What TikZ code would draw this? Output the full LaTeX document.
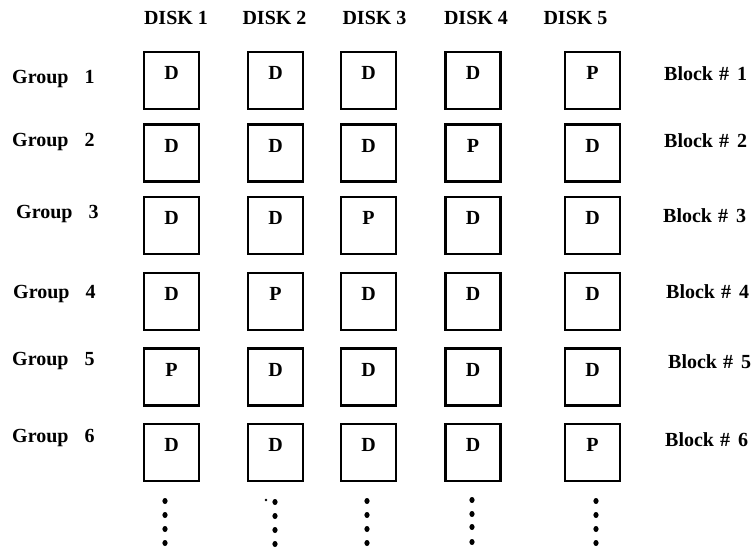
\documentclass[tikz,border=0pt]{standalone}
\usepackage{fontspec}
\setmainfont{Liberation Serif}
\usetikzlibrary{positioning}

\begin{document}
\begin{tikzpicture}[
    x=1pt, y=-1pt,
    cell/.style={
      draw,
      line width=2.2pt,
      inner sep=0pt,
      minimum width=55pt,
      minimum height=57pt,
      text height=13.5pt,
      text depth=15pt,
      font=\fontsize{20}{24}\selectfont\bfseries
    },
    lbl/.style={
      inner sep=0pt,
      font=\fontsize{20}{24}\selectfont\bfseries
    },
    dots/.style={fill=black}
  ]
    \useasboundingbox (0,0) rectangle (753,548);
    % disk headers
    \node[lbl, anchor=base] (disk1) at (176,25) {DISK 1};
    \node[lbl, anchor=base] (disk2) at (274.5,25) {DISK 2};
    \node[lbl, anchor=base] (disk3) at (374.5,25) {DISK 3};
    \node[lbl, anchor=base] (disk4) at (476,25) {DISK 4};
    \node[lbl, anchor=base] (disk5) at (575.5,25) {DISK 5};
    % group labels
    \node[lbl, anchor=base west] (group1) at (12,84) {Group\hspace{0.8em}1};
    \node[lbl, anchor=base west] (group2) at (12,147) {Group\hspace{0.8em}2};
    \node[lbl, anchor=base west] (group3) at (16,219) {Group\hspace{0.8em}3};
    \node[lbl, anchor=base west] (group4) at (13,299) {Group\hspace{0.8em}4};
    \node[lbl, anchor=base west] (group5) at (12,366) {Group\hspace{0.8em}5};
    \node[lbl, anchor=base west] (group6) at (12,442) {Group\hspace{0.8em}6};
    % block labels
    \node[lbl, anchor=base west] (block1) at (664,81) {Block\hspace{0.3em}\#\hspace{0.4em}1};
    \node[lbl, anchor=base west] (block2) at (664,148) {Block\hspace{0.3em}\#\hspace{0.4em}2};
    \node[lbl, anchor=base west] (block3) at (663,223) {Block\hspace{0.3em}\#\hspace{0.4em}3};
    \node[lbl, anchor=base west] (block4) at (666,299) {Block\hspace{0.3em}\#\hspace{0.4em}4};
    \node[lbl, anchor=base west] (block5) at (668,368) {Block\hspace{0.3em}\#\hspace{0.4em}5};
    \node[lbl, anchor=base west] (block6) at (665,446) {Block\hspace{0.3em}\#\hspace{0.4em}6};
    % group 1
    \node[cell] (g1d1) at (171.5,80.5) {D};
    \node[cell] (g1d2) at (275.5,80.5) {D};
    \node[cell] (g1d3) at (368.5,80.5) {D};
    \node[cell] (g1d4) at (473,80.5) {D};
    \node[cell] (g1d5) at (592.5,80.5) {P};
    % group 2
    \node[cell] (g2d1) at (171.5,153) {D};
    \node[cell] (g2d2) at (275.5,153) {D};
    \node[cell] (g2d3) at (368.5,153) {D};
    \node[cell] (g2d4) at (473,153) {P};
    \node[cell] (g2d5) at (592.5,153) {D};
    % group 3
    \node[cell] (g3d1) at (171.5,225.5) {D};
    \node[cell] (g3d2) at (275.5,225.5) {D};
    \node[cell] (g3d3) at (368.5,225.5) {P};
    \node[cell] (g3d4) at (473,225.5) {D};
    \node[cell] (g3d5) at (592.5,225.5) {D};
    % group 4
    \node[cell] (g4d1) at (171.5,301.5) {D};
    \node[cell] (g4d2) at (275.5,301.5) {P};
    \node[cell] (g4d3) at (368.5,301.5) {D};
    \node[cell] (g4d4) at (473,301.5) {D};
    \node[cell] (g4d5) at (592.5,301.5) {D};
    % group 5
    \node[cell] (g5d1) at (171.5,377) {P};
    \node[cell] (g5d2) at (275.5,377) {D};
    \node[cell] (g5d3) at (368.5,377) {D};
    \node[cell] (g5d4) at (473,377) {D};
    \node[cell] (g5d5) at (592.5,377) {D};
    % group 6
    \node[cell] (g6d1) at (171.5,452.5) {D};
    \node[cell] (g6d2) at (275.5,452.5) {D};
    \node[cell] (g6d3) at (368.5,452.5) {D};
    \node[cell] (g6d4) at (473,452.5) {D};
    \node[cell] (g6d5) at (592.5,452.5) {P};
    % continuation dots
    \fill[dots] (165,501) ellipse [x radius=2.6pt, y radius=3pt]
      (165,515) ellipse [x radius=2.6pt, y radius=3pt]
      (165,529) ellipse [x radius=2.6pt, y radius=3pt]
      (165,543) ellipse [x radius=2.6pt, y radius=3pt];
    \fill[dots] (266,500) circle [radius=1.4pt]
      (275,502) ellipse [x radius=2.6pt, y radius=3pt]
      (275,516) ellipse [x radius=2.6pt, y radius=3pt]
      (275,530) ellipse [x radius=2.6pt, y radius=3pt]
      (275,544) ellipse [x radius=2.6pt, y radius=3pt];
    \fill[dots] (367,501) ellipse [x radius=2.6pt, y radius=3pt]
      (367,515) ellipse [x radius=2.6pt, y radius=3pt]
      (367,529) ellipse [x radius=2.6pt, y radius=3pt]
      (367,543) ellipse [x radius=2.6pt, y radius=3pt];
    \fill[dots] (472,500) ellipse [x radius=2.6pt, y radius=3pt]
      (472,514) ellipse [x radius=2.6pt, y radius=3pt]
      (472,527) ellipse [x radius=2.6pt, y radius=3pt]
      (472,542) ellipse [x radius=2.6pt, y radius=3pt];
    \fill[dots] (596,501) ellipse [x radius=2.6pt, y radius=3pt]
      (596,515) ellipse [x radius=2.6pt, y radius=3pt]
      (596,529) ellipse [x radius=2.6pt, y radius=3pt]
      (596,543) ellipse [x radius=2.6pt, y radius=3pt];
  \end{tikzpicture}
\end{document}
